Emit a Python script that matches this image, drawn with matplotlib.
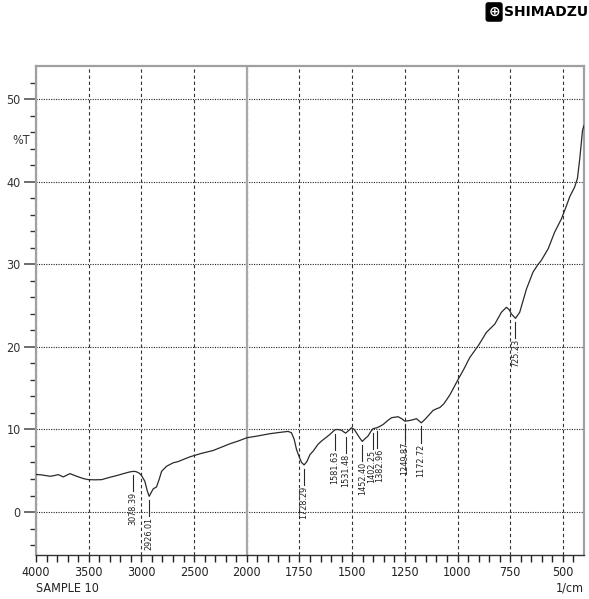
from matplotlib import pyplot as plt
from matplotlib import font_manager
from matplotlib.font_manager import FontProperties
from matplotlib.ticker import FixedLocator
import numpy as np

# spectrum (1/cm, %T)
wavenumber = [4000, 3950, 3867, 3830, 3789, 3741, 3678, 3614, 3550, 3504, 3440, 3377,
              3300, 3235, 3170, 3109, 3078, 3052, 3020, 2998, 2967, 2945, 2926, 2905,
              2888, 2856, 2830, 2808, 2761, 2700, 2651, 2540, 2430, 2319, 2240, 2161,
              2080, 2000, 1950, 1891, 1840, 1804, 1788, 1775, 1764, 1750, 1740, 1728,
              1715, 1700, 1685, 1662, 1646, 1620, 1606, 1582, 1570, 1551, 1531, 1515,
              1503, 1490, 1480, 1465, 1452, 1438, 1425, 1410, 1401, 1383, 1370, 1353,
              1330, 1313, 1282, 1265, 1250, 1235, 1218, 1195, 1172, 1155, 1140, 1116,
              1100, 1084, 1065, 1045, 1036, 1015, 997, 970, 942, 900, 863, 823, 792,
              768, 755, 744, 725, 705, 690, 673, 642, 620, 603, 570, 539, 507, 480,
              468, 444, 431, 420, 407, 400]
transmittance = [4.55, 4.5, 4.33, 4.4, 4.53, 4.25, 4.65, 4.33, 4.05, 3.92, 3.9, 3.92,
                 4.2, 4.41, 4.65, 4.86, 4.92, 4.9, 4.7, 4.41, 3.72, 2.6, 1.9, 2.4,
                 2.8, 3.04, 4.0, 4.93, 5.54, 5.95, 6.11, 6.68, 7.1, 7.45, 7.85, 8.26,
                 8.6, 8.99, 9.2, 9.48, 9.65, 9.76, 9.6, 8.8, 7.57, 6.6, 6.0, 5.7,
                 6.1, 6.96, 7.37, 8.2, 8.58, 9.1, 9.39, 9.95, 10.0, 9.9, 9.55, 9.9,
                 10.2, 10.0, 9.6, 9.0, 8.55, 8.9, 9.19, 9.8, 10.08, 10.2, 10.35, 10.6,
                 11.1, 11.42, 11.54, 11.3, 11.0, 11.05, 11.13, 11.3, 10.8, 11.2, 11.62, 12.3,
                 12.5, 12.65, 13.1, 13.85, 14.2, 15.2, 16.07, 17.3, 18.7, 20.2, 21.75, 22.76, 24.18,
                 24.79, 24.5, 23.97, 23.45, 24.18, 25.5, 27.0, 29.04, 29.9, 30.45, 31.87, 33.9, 35.5, 37.3,
                 38.15, 39.37, 40.4, 42.8, 46.2, 46.8]

peaks = [3078.39, 2926.01, 1728.29, 1581.63, 1531.48, 1452.40, 1402.25, 1382.96,
         1249.87, 1172.72, 725.23]

xticks = [4000, 3500, 3000, 2500, 2000, 1750, 1500, 1250, 1000, 750, 500]
yticks = [0, 10, 20, 30, 40, 50]

# label nudges in pixels so the two close peaks don't collide
nudge = {1402.25: -1.5, 1382.96: 2.5}


# look for a narrow sans face, fall back to DejaVu
def pick_font():
    best = None
    for f in font_manager.fontManager.ttflist:
        if 'Mono' in f.name or 'Serif' in f.name or f.style != 'normal':
            continue
        if f.weight not in (400, 'normal', 'regular', 'book'):
            continue
        if 'Narrow' in f.name or 'Condensed' in f.name or f.stretch in ('condensed', 'semi-condensed'):
            if best is None or 'Liberation' in f.name:
                best = f
    if best is None:
        return FontProperties(family='DejaVu Sans')
    return FontProperties(fname=best.fname)


fp = pick_font()


def fwd(w):
    w = np.asarray(w, dtype=float)
    return np.where(w < 2000, w, 2000 + (w - 2000) / 2)


def inv(u):
    u = np.asarray(u, dtype=float)
    return np.where(u < 2000, u, 2000 + (u - 2000) * 2)


fig = plt.figure(figsize=(5.89, 5.99), dpi=100)
ax = fig.add_axes([0.0611, 0.0735, 0.9304, 0.8163])
ax.set_xscale('function', functions=(fwd, inv))
ax.set_xlim(4000, 400)
ax.set_ylim(-5.2, 54)

ax.plot(wavenumber, transmittance, color='#2a2a2a', lw=0.9, zorder=3)

# peak markers
for p in peaks:
    v = np.interp(p, wavenumber[::-1], transmittance[::-1])
    dx = nudge.get(p, 0) * 0.72
    ax.plot([p, p], [v - 0.45, v - 2.4], color='#2a2a2a', lw=0.8, zorder=3)
    ax.annotate('%.2f' % p, (p, v - 2.5), xytext=(dx, 0), textcoords='offset points',
                rotation=90, ha='center', va='top', fontproperties=fp, fontsize=6.5,
                color='#222222')

ax.xaxis.set_major_locator(FixedLocator(xticks))
minor = list(range(3900, 2000, -100)) + list(range(1950, 400, -50))
ax.xaxis.set_minor_locator(FixedLocator([m for m in minor if m not in xticks]))
ax.set_xticklabels([str(t) for t in xticks])
ax.yaxis.set_major_locator(FixedLocator(yticks))
ax.yaxis.set_minor_locator(FixedLocator([m for m in range(-4, 54, 2) if m % 10]))

ax.tick_params(axis='x', which='major', length=5, width=1, color='#222222',
               pad=3, labelcolor='#222222')
ax.tick_params(axis='x', which='minor', length=5, width=1, color='#222222')
ax.tick_params(axis='y', which='major', length=9, width=1.2, color='#555555',
               pad=2, labelcolor='#333333')
ax.tick_params(axis='y', which='minor', length=4, width=1, color='#333333')
for lab in ax.get_xticklabels() + ax.get_yticklabels():
    lab.set_fontproperties(fp)
    lab.set_fontsize(9)

ax.grid(axis='x', which='major', color='#333333', lw=0.8, linestyle=(0, (3, 2.5)))
ax.grid(axis='y', which='major', color='#222222', lw=0.8, linestyle=(0, (1, 1.2)))
ax.axvline(2000, color='#a8a8a8', lw=1.6, zorder=2)

for s in ax.spines.values():
    s.set_color('#a0a0a0')
    s.set_linewidth(1.6)
ax.spines['bottom'].set_color('#333333')
ax.spines['bottom'].set_linewidth(1.0)

fig.text(0.021, 0.766, '%T', fontproperties=fp, fontsize=9, color='#333333',
         va='center', ha='left')
fig.text(0.061, 0.018, 'SAMPLE 10', fontproperties=fp, fontsize=9, color='#222222',
         va='center', ha='left')
fig.text(0.9915, 0.018, '1/cm', fontproperties=fp, fontsize=9, color='#222222',
         va='center', ha='right')

# logo
fig.text(0.829, 0.980, '\u2295', fontsize=10, color='white', ha='left', va='center',
         family='DejaVu Sans', fontweight='bold',
         bbox=dict(facecolor='black', edgecolor='black', boxstyle='round,pad=0.15'))
fig.text(0.999, 0.980, 'SHIMADZU', fontsize=10, fontweight='bold', color='black',
         ha='right', va='center', family='DejaVu Sans')

fig.savefig('out.png', dpi=100)
